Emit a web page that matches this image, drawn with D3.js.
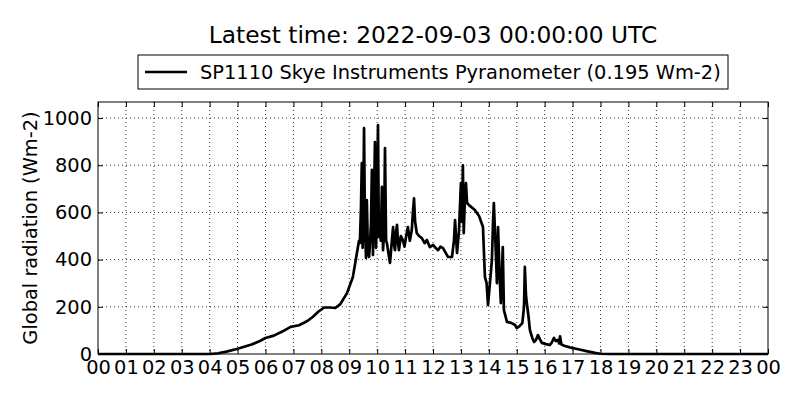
<!DOCTYPE html>
<html>
<head>
<meta charset="utf-8">
<script src="https://cdn.jsdelivr.net/npm/d3@7"></script>
<style>
  body { margin: 0; background: #fff; }
  svg { display: block; font-family: "DejaVu Sans", sans-serif; }
  .grid line { stroke: #000; stroke-dasharray: 1,3; stroke-width: 0.8; }
</style>
</head>
<body>
<div id="chart"></div>
<script>
// hour of day (UTC) and global radiation (Wm-2)
const hours = [
  0, 4.0, 4.3, 4.6, 5.0, 5.5, 5.8, 6.0, 6.3, 6.6, 6.9, 7.2, 7.5, 7.7, 7.9, 8.1, 8.3, 8.5, 8.67, 8.92,
  9.13, 9.31, 9.35, 9.38, 9.42, 9.45, 9.48, 9.51, 9.53, 9.56, 9.6, 9.63, 9.67, 9.71, 9.75, 9.78, 9.81, 9.85,
  9.88, 9.92, 9.96, 9.99, 10.03, 10.06, 10.1, 10.13, 10.17, 10.21, 10.25, 10.28, 10.32, 10.35, 10.4,
  10.46, 10.52, 10.57, 10.61, 10.64, 10.68, 10.71, 10.75, 10.78, 10.85, 10.92, 10.98, 11.04, 11.1, 11.17, 11.24, 11.28,
  11.32, 11.36, 11.42, 11.5, 11.6, 11.7, 11.78, 11.89, 12.0, 12.09, 12.18, 12.27, 12.36, 12.45, 12.54,
  12.68, 12.75, 12.79, 12.86, 12.93, 13.0, 13.04, 13.07, 13.1, 13.14, 13.18, 13.22, 13.29, 13.5, 13.65,
  13.79, 13.86, 13.92, 13.97, 14.04, 14.11, 14.15, 14.18, 14.22, 14.26, 14.29, 14.33, 14.38, 14.43, 14.5,
  14.54, 14.65, 14.8, 14.94, 15.0, 15.1, 15.2, 15.26, 15.29, 15.33, 15.36, 15.42, 15.47, 15.55, 15.62,
  15.69, 15.76, 15.83, 15.9, 16.05, 16.19, 16.26, 16.33, 16.4, 16.47, 16.52, 16.55, 16.6, 16.7, 16.9,
  17.2, 17.5, 17.8, 18.0, 18.3, 24
];
const radiation = [
  0, 0, 3, 10, 22, 40, 55, 68, 78, 95, 115, 122, 140, 158, 180, 197, 197, 195, 210, 258,
  326, 453, 480, 470, 620, 809, 450, 700, 957, 560, 407, 652, 430, 411, 480, 555, 780, 420,
  600, 898, 450, 623, 970, 496, 560, 480, 708, 440, 520, 873, 480, 470, 430,
  386, 470, 538, 460, 440, 520, 547, 470, 440, 500, 483, 455, 500, 538, 480, 525, 600,
  660, 560, 512, 500, 491, 470, 483, 453, 462, 450, 440, 455, 449, 430, 411,
  411, 480, 568, 428, 520, 724, 560, 800, 512, 650, 724, 640, 631, 610, 585,
  538, 326, 300, 208, 300, 398, 560, 640, 520, 400, 300, 538, 350, 216, 453,
  186, 136, 132, 123, 110, 118, 131, 200, 369, 250, 216, 160, 102, 70, 51,
  60, 80, 62, 47, 42, 38, 50, 68, 55, 60, 45, 75, 40, 35, 28,
  20, 12, 5, 1, 0, 0
];
const xTicks = d3.range(0, 25);
const yTicks = [0, 200, 400, 600, 800, 1000];
const titleText = 'Latest time: 2022-09-03 00:00:00 UTC';
const legendText = 'SP1110 Skye Instruments Pyranometer (0.195 Wm-2)';
const yLabel = 'Global radiation (Wm-2)';

const width = 800, height = 400;
const margin = { top: 102, right: 32, bottom: 46, left: 98 };
const plotW = width - margin.left - margin.right,
      plotH = height - margin.top - margin.bottom;

const svg = d3.select('#chart').append('svg')
    .attr('width', width)
    .attr('height', height);

const x = d3.scaleLinear().domain([0, 24]).range([0, plotW]);
const y = d3.scaleLinear().domain([0, 1068]).range([plotH, 0]);

const g = svg.append('g')
    .attr('transform', `translate(${margin.left},${margin.top})`);

// dotted grid
const grid = g.append('g').attr('class', 'grid');
grid.selectAll('.vx').data(xTicks.slice(1, -1)).enter().append('line')
    .attr('x1', d => x(d)).attr('x2', d => x(d))
    .attr('y1', 0).attr('y2', plotH);
grid.selectAll('.hy').data(yTicks.slice(1)).enter().append('line')
    .attr('x1', 0).attr('x2', plotW)
    .attr('y1', d => y(d)).attr('y2', d => y(d));

// inward ticks on all four sides
const tickLen = 5;
function styleAxis(sel) {
    sel.select('.domain').remove();
    sel.selectAll('.tick line').attr('stroke', '#000').attr('stroke-width', 1);
    sel.selectAll('.tick text').attr('fill', '#000')
        .style('font-size', '19.4px').style('font-family', '"DejaVu Sans", sans-serif');
}

g.append('g')
    .attr('transform', `translate(0,${plotH})`)
    .call(d3.axisBottom(x).tickValues(xTicks).tickSizeInner(-tickLen).tickSizeOuter(0)
        .tickPadding(6).tickFormat(d => String(d % 24).padStart(2, '0')))
    .call(styleAxis);
g.append('g')
    .call(d3.axisTop(x).tickValues(xTicks).tickSizeInner(-tickLen).tickSizeOuter(0).tickFormat(''))
    .call(styleAxis);
g.append('g')
    .call(d3.axisLeft(y).tickValues(yTicks).tickSizeInner(-tickLen).tickSizeOuter(0)
        .tickPadding(6).tickFormat(d3.format('d')))
    .call(styleAxis);
g.append('g')
    .attr('transform', `translate(${plotW},0)`)
    .call(d3.axisRight(y).tickValues(yTicks).tickSizeInner(-tickLen).tickSizeOuter(0).tickFormat(''))
    .call(styleAxis);

// data line
const points = hours.map((h, i) => [h, radiation[i]]);
g.append('path')
    .datum(points)
    .attr('fill', 'none')
    .attr('stroke', '#000')
    .attr('stroke-width', 2.7)
    .attr('stroke-linejoin', 'round')
    .attr('d', d3.line().x(d => x(d[0])).y(d => y(d[1])));

// frame
g.append('rect')
    .attr('width', plotW).attr('height', plotH)
    .attr('fill', 'none').attr('stroke', '#000').attr('stroke-width', 1);

// title
svg.append('text')
    .attr('x', margin.left + plotW / 2).attr('y', 43)
    .attr('text-anchor', 'middle')
    .style('font-size', '23.3px')
    .text(titleText);

// legend
const legend = svg.append('g').attr('transform', 'translate(138,55)');
legend.append('rect')
    .attr('width', 590).attr('height', 34)
    .attr('fill', '#fff').attr('stroke', '#000').attr('stroke-width', 1);
legend.append('line')
    .attr('x1', 7).attr('x2', 49).attr('y1', 17).attr('y2', 17)
    .attr('stroke', '#000').attr('stroke-width', 2.7);
legend.append('text')
    .attr('x', 62).attr('y', 24)
    .style('font-size', '19.4px')
    .text(legendText);

// y label
svg.append('text')
    .attr('transform', `translate(37,${margin.top + plotH / 2}) rotate(-90)`)
    .attr('text-anchor', 'middle')
    .style('font-size', '19.4px')
    .text(yLabel);
</script>
</body>
</html>
